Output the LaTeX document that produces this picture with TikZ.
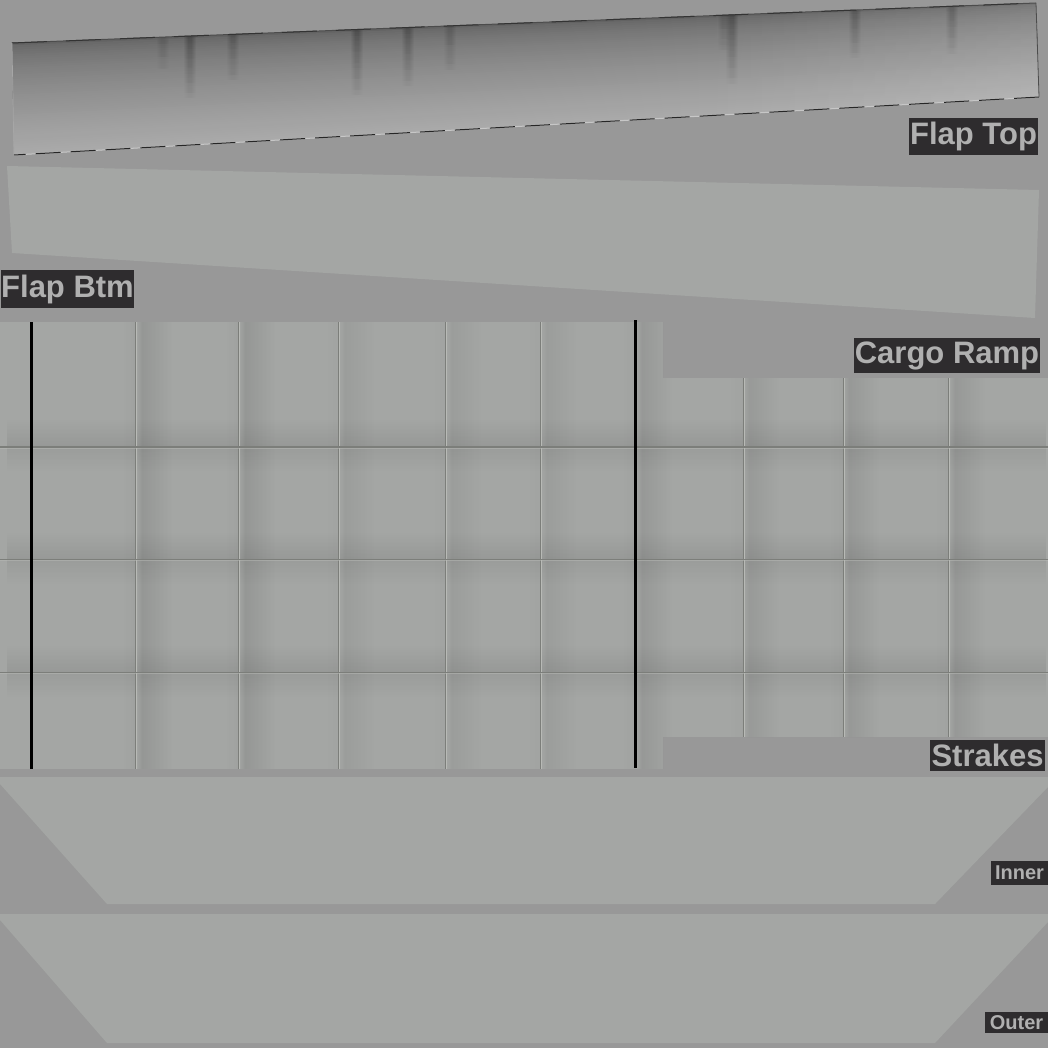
\documentclass[tikz,border=0pt]{standalone}
\usepackage{fontspec}
\setmainfont{Liberation Sans}
\usepackage{xcolor}
\definecolor{sheetgray}{RGB}{152,152,152}
\definecolor{panelgray}{RGB}{164,166,164}
\definecolor{seamdark}{RGB}{124,126,122}
\definecolor{seamlight}{RGB}{184,186,182}
\definecolor{labelbg}{RGB}{46,44,46}
\definecolor{labeltext}{RGB}{176,176,176}
\usetikzlibrary{calc, fadings}

\begin{document}
\begin{tikzpicture}[
  x=1pt, y=-1pt,
  panel/.style={fill=panelgray},
  streak/.style={fill=black, path fading=south},
  seamv/.style={seamdark, line width=1pt},
  seamh/.style={seamdark, line width=1.2pt},
  seamglow/.style={seamlight, line width=0.8pt},
  blackbar/.style={black, line width=3pt},
  flaplabel/.style={fill=labelbg, text=labeltext, inner sep=0pt,
    font=\fontsize{31}{31}\selectfont\bfseries},
  smalllabel/.style={flaplabel, font=\fontsize{20}{20}\selectfont\bfseries}
]
\useasboundingbox (0,0) rectangle (1048,1048);
\fill[sheetgray] (0,0) rectangle (1048,1048);

% --- Flap top ---
\coordinate (ftl) at (12,43);
\coordinate (ftr) at (1036,3);
\coordinate (fbr) at (1039,97);
\coordinate (fbl) at (14,155);

\begin{scope}
\clip (ftl) -- (ftr) -- (fbr) -- (fbl) -- cycle;
% Strips from dark to light
\foreach \t in {0,0.02,...,1.0} {
  \pgfmathsetmacro{\gr}{0.39+0.28*\t^0.62}
  \definecolor{stripcol}{gray}{\gr}
  \fill[stripcol] ($(ftl)!\t!(fbl)$) -- ($(ftr)!\t!(fbr)$) -- (fbr) -- (fbl) -- cycle;
}
\fill[white, opacity=0.12, path fading=west] (700,0) rectangle (1048,160);
% Streaks
\foreach \sx/\stop/\sbot/\sop in {
  163/34/72/0.025, 190/36/100/0.05, 233/30/82/0.04, 357/22/97/0.055,
  408/20/88/0.05, 450/18/72/0.035, 724/10/52/0.03,
  732/10/86/0.055, 855/6/60/0.045, 952/2/56/0.04} {
  \foreach \sw in {2,3,4,5,6}
    \fill[streak, opacity=\sop] (\sx-\sw,\stop) rectangle (\sx+\sw,\sbot);
}
\end{scope}

\draw[black!70, line width=1pt] (ftl) -- (ftr);
\draw[black!80, line width=1pt, dash pattern=on 35pt off 19pt] (ftl) -- (ftr);
\draw[black!70, line width=0.8pt] (ftr) -- (fbr);
\draw[black!35, line width=0.7pt] (ftl) -- (fbl);
\draw[black!22, line width=1pt] (fbl) -- (fbr);
\draw[black!85, line width=1pt, dash pattern=on 25pt off 10pt] (fbr) -- (fbl);

% --- Flap bottom ---
\fill[panel] (7,166) -- (1039,190) -- (1035,318) -- (12,253) -- cycle;

% --- Cargo ramp and strakes panels ---
\fill[panel] (0,322) rectangle (663,769);
\fill[panel] (663,378) rectangle (1048,737);

% Soft bands beside the vertical seams
\begin{scope}
\clip (0,322) rectangle (663,769) (663,378) rectangle (1048,737);
\foreach \bx/\bop in {136/0.09, 239/0.09, 339/0.05, 446/0.05, 541/0.05,
                      636/0.08, 743/0.07, 843/0.08, 949/0.08} {
  \fill[black, opacity=\bop, path fading=east] (\bx+6,322) rectangle (\bx+36,769);
  \fill[black, opacity=\bop, path fading=west] (\bx,322) rectangle (\bx+6,769);
  \fill[black, opacity=0.25*\bop, path fading=west] (\bx-14,322) rectangle (\bx,769);
}
% Soft bands along the horizontal seams
\foreach \by in {447,560,673} {
  \fill[black, opacity=0.08, path fading=north] (8,\by-28) rectangle (1048,\by);
  \fill[black, opacity=0.055, path fading=south] (8,\by) rectangle (1048,\by+24);
}
\end{scope}

% Seams
\foreach \sx in {135.5,238.5,338.5,445.5,540.5} {
  \draw[seamv] (\sx,322) -- (\sx,769);
  \draw[seamglow] (\sx+1,322) -- (\sx+1,769);
}
\foreach \sx in {743,843,948} {
  \draw[seamv] (\sx,378) -- (\sx,737);
  \draw[seamglow] (\sx+1,378) -- (\sx+1,737);
}
\foreach \sy in {447,559.5,672.5} {
  \draw[seamglow, opacity=0.5] (0,\sy+1) -- (1048,\sy+1);
  \draw[seamh] (0,\sy) -- (1048,\sy);
}

% Black bars
\draw[blackbar] (31.5,322) -- (31.5,769);
\draw[blackbar] (635,320) -- (635,768);

% --- Inner and outer panels ---
\fill[panel] (0,777) -- (1048,777) -- (1048,787) -- (935,904) -- (107,904) -- (0,784) -- cycle;
\fill[panel] (0,914) -- (1048,914) -- (1048,922) -- (935,1043) -- (107,1043) -- (0,920) -- cycle;

% --- Labels ---
\node[flaplabel, minimum width=129pt, minimum height=37pt] (flaptop) at (973.5,136.5) {\raisebox{-3pt}{Flap Top}};
\node[flaplabel, minimum width=133pt, minimum height=38pt] (flapbtm) at (67.5,289) {\raisebox{-3pt}{Flap Btm}};
\node[flaplabel, minimum width=186pt, minimum height=35pt] (cargoramp) at (947,355.5) {\raisebox{-2pt}{Cargo Ramp}};
\node[flaplabel, minimum width=115pt, minimum height=31pt] (strakes) at (987.5,755.5) {Strakes};
\node[smalllabel, minimum width=57pt, minimum height=24pt] (inner) at (1019.5,873) {Inner};
\node[smalllabel, minimum width=63pt, minimum height=21pt] (outer) at (1016.5,1022.5) {Outer};

\end{tikzpicture}
\end{document}
